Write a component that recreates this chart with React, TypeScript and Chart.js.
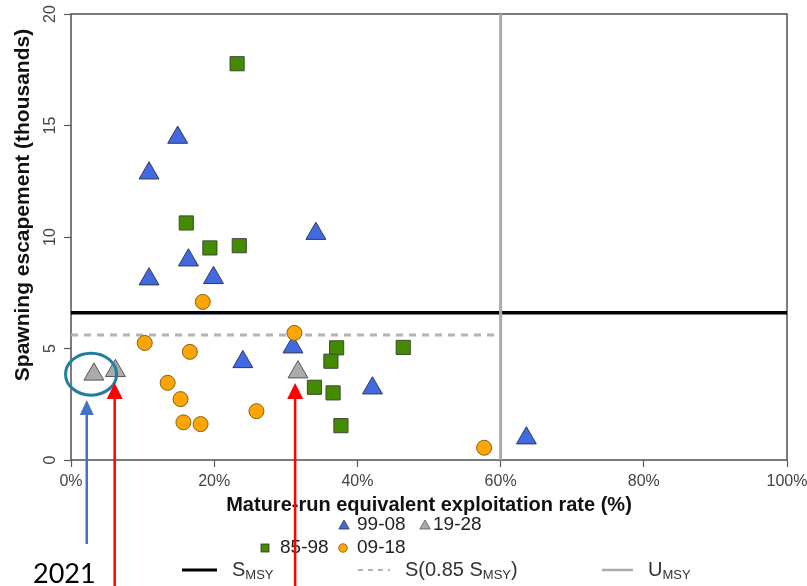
import React, { useEffect, useRef } from "react";
import { Chart, registerables } from "chart.js";

Chart.register(...registerables);

// Exploitation rate (%) and spawning escapement (thousands) by period
const p8598X = [23.2, 16.1, 19.4, 23.5, 37.1, 36.3, 34.0, 36.6, 37.7, 46.4];
const p8598Y = [17.77, 10.63, 9.51, 9.61, 5.03, 4.43, 3.26, 3.01, 1.54, 5.05];

const p9908X = [14.9, 10.9, 16.4, 10.9, 19.9, 34.2, 24.0, 31.0, 42.1, 63.6];
const p9908Y = [14.46, 12.86, 8.96, 8.11, 8.17, 10.15, 4.4, 5.06, 3.22, 0.98];

const p0918X = [18.4, 10.3, 16.6, 31.2, 13.5, 15.3, 15.7, 18.1, 25.9, 57.7];
const p0918Y = [7.09, 5.25, 4.85, 5.7, 3.46, 2.73, 1.69, 1.61, 2.19, 0.55];

const p1928X = [3.2, 6.2, 31.7];
const p1928Y = [3.84, 4.0, 3.94];

// Reference points
const sMsy = 6.6;
const s85Msy = 0.85 * sMsy;
const uMsy = 60;

const xTickValues = [0, 20, 40, 60, 80, 100];
const yTickValues = [0, 5, 10, 15, 20];

// Annotation targets (x in %, y in thousands)
const circledX = 2.8;
const circledY = 3.85;
const blueArrowX = 2.2;
const blueArrowTipY = 2.69;
const redArrowX = [6.1, 31.3];
const redArrowTipY = 3.45;

const FONT = "'Liberation Sans', Arial, sans-serif";

const pairs = (xs: number[], ys: number[]) => xs.map((x, i) => ({ x, y: ys[i] }));

function drawTri(ctx: CanvasRenderingContext2D, x: number, y: number, r: number, fill: string, stroke: string) {
  ctx.beginPath();
  ctx.moveTo(x, y - r);
  ctx.lineTo(x + r * 0.866, y + r * 0.5);
  ctx.lineTo(x - r * 0.866, y + r * 0.5);
  ctx.closePath();
  ctx.fillStyle = fill;
  ctx.fill();
  ctx.strokeStyle = stroke;
  ctx.lineWidth = 0.8;
  ctx.stroke();
}

function drawSubText(ctx: CanvasRenderingContext2D, parts: [string, boolean][], x: number, y: number) {
  let cx = x;
  ctx.textAlign = "left";
  ctx.textBaseline = "middle";
  for (const [t, sub] of parts) {
    ctx.font = sub ? `13px ${FONT}` : `20px ${FONT}`;
    ctx.fillText(t, cx, sub ? y + 5 : y);
    cx += ctx.measureText(t).width;
  }
}

function arrow(ctx: CanvasRenderingContext2D, x: number, tipY: number, bottomY: number, color: string, headW: number, headH: number) {
  ctx.strokeStyle = color;
  ctx.fillStyle = color;
  ctx.lineWidth = 2.5;
  ctx.beginPath();
  ctx.moveTo(x, tipY + headH - 1);
  ctx.lineTo(x, bottomY);
  ctx.stroke();
  ctx.beginPath();
  ctx.moveTo(x, tipY);
  ctx.lineTo(x + headW / 2, tipY + headH);
  ctx.lineTo(x - headW / 2, tipY + headH);
  ctx.closePath();
  ctx.fill();
}

const decorPlugin = {
  id: "decor",
  beforeDatasetsDraw(chart: any) {
    const { ctx, chartArea: a } = chart;
    ctx.save();
    ctx.strokeStyle = "#5a5a5a";
    ctx.lineWidth = 1.6;
    ctx.strokeRect(a.left, a.top, a.right - a.left, a.bottom - a.top);
    ctx.restore();
  },
  afterDraw(chart: any) {
    const { ctx, chartArea: a } = chart;
    const xs = chart.scales.x;
    const ys = chart.scales.y;
    ctx.save();

    // axis titles
    ctx.fillStyle = "#111";
    ctx.font = `bold 20px ${FONT}`;
    ctx.textAlign = "center";
    ctx.textBaseline = "middle";
    ctx.fillText("Mature-run equivalent exploitation rate (%)", (a.left + a.right) / 2, 505);
    ctx.save();
    ctx.translate(23, 205);
    ctx.rotate(-Math.PI / 2);
    ctx.font = `bold 21px ${FONT}`;
    ctx.fillText("Spawning escapement (thousands)", 0, 0);
    ctx.restore();

    // period legend
    ctx.fillStyle = "#222";
    ctx.font = `19px ${FONT}`;
    ctx.textAlign = "left";
    ctx.textBaseline = "middle";
    drawTri(ctx, 344, 526, 6, "#4169E1", "#333");
    ctx.fillStyle = "#222";
    ctx.fillText("99-08", 357, 525);
    drawTri(ctx, 425, 526, 6, "#ABABAB", "#555");
    ctx.fillStyle = "#222";
    ctx.fillText("19-28", 433, 525);

    ctx.fillStyle = "#458B00";
    ctx.fillRect(261, 544, 8, 8);
    ctx.strokeStyle = "#333";
    ctx.lineWidth = 0.8;
    ctx.strokeRect(261, 544, 8, 8);
    ctx.fillStyle = "#222";
    ctx.fillText("85-98", 280, 548);
    ctx.beginPath();
    ctx.arc(343, 548, 4.3, 0, Math.PI * 2);
    ctx.fillStyle = "#FFA500";
    ctx.fill();
    ctx.strokeStyle = "#7a5a10";
    ctx.stroke();
    ctx.fillStyle = "#222";
    ctx.fillText("09-18", 357, 548);

    // reference line legend
    const ly = 570;
    ctx.lineWidth = 3;
    ctx.strokeStyle = "#000";
    ctx.beginPath();
    ctx.moveTo(182, ly);
    ctx.lineTo(217, ly);
    ctx.stroke();
    ctx.fillStyle = "#333";
    drawSubText(ctx, [["S", false], ["MSY", true]], 232, ly);

    ctx.lineWidth = 2;
    ctx.strokeStyle = "#b4b4b4";
    ctx.setLineDash([5, 5]);
    ctx.beginPath();
    ctx.moveTo(358, ly);
    ctx.lineTo(390, ly);
    ctx.stroke();
    ctx.setLineDash([]);
    ctx.fillStyle = "#333";
    drawSubText(ctx, [["S(0.85 S", false], ["MSY", true], [")", false]], 405, ly);

    ctx.lineWidth = 2.5;
    ctx.strokeStyle = "#ababab";
    ctx.beginPath();
    ctx.moveTo(602, ly);
    ctx.lineTo(633, ly);
    ctx.stroke();
    ctx.fillStyle = "#333";
    drawSubText(ctx, [["U", false], ["MSY", true]], 648, ly);

    // callouts
    ctx.strokeStyle = "#1e7fa0";
    ctx.lineWidth = 3;
    ctx.beginPath();
    ctx.ellipse(xs.getPixelForValue(circledX), ys.getPixelForValue(circledY), 25.5, 21, 0, 0, Math.PI * 2);
    ctx.stroke();

    arrow(ctx, xs.getPixelForValue(blueArrowX), ys.getPixelForValue(blueArrowTipY), 544, "#4472C4", 14, 15);
    for (const rx of redArrowX) {
      arrow(ctx, xs.getPixelForValue(rx), ys.getPixelForValue(redArrowTipY), 586, "#FF0000", 16, 16);
    }

    ctx.fillStyle = "#000";
    ctx.font = "27px Lato, 'Open Sans', sans-serif";
    ctx.textAlign = "left";
    ctx.textBaseline = "alphabetic";
    ctx.fillText("2021", 33, 583);

    ctx.restore();
  },
};

export default function App() {
  const canvasRef = useRef<HTMLCanvasElement | null>(null);

  useEffect(() => {
    document.body.style.margin = "0";
    const canvas = canvasRef.current;
    if (!canvas) return;

    const pointDs = (label: string, xs: number[], ys: number[], style: string, radius: number, fill: string, border: string, order: number) => ({
      type: "scatter" as const,
      label,
      data: pairs(xs, ys),
      pointStyle: style,
      pointRadius: radius,
      pointBackgroundColor: fill,
      pointBorderColor: border,
      pointBorderWidth: 1,
      showLine: false,
      order,
    });

    const lineDs = (label: string, data: { x: number; y: number }[], color: string, width: number, dash: number[], order: number) => ({
      type: "line" as const,
      label,
      data,
      borderColor: color,
      borderWidth: width,
      borderDash: dash,
      pointRadius: 0,
      fill: false,
      tension: 0,
      order,
    });

    const chart = new Chart(canvas, {
      type: "scatter",
      data: {
        datasets: [
          lineDs("S(0.85 SMSY)", [{ x: 0, y: s85Msy }, { x: uMsy, y: s85Msy }], "#b4b4b4", 3, [7, 6], 12),
          lineDs("SMSY", [{ x: 0, y: sMsy }, { x: 100, y: sMsy }], "#000000", 3.5, [], 11),
          lineDs("UMSY", [{ x: uMsy, y: 0 }, { x: uMsy, y: 20 }], "#ababab", 3, [], 10),
          pointDs("85-98", p8598X, p8598Y, "rect", 10, "#458B00", "#3a4a3a", 3),
          pointDs("99-08", p9908X, p9908Y, "triangle", 11.5, "#4169E1", "#333a55", 2),
          pointDs("09-18", p0918X, p0918Y, "circle", 7.5, "#FFA500", "#806020", 1),
          pointDs("19-28", p1928X, p1928Y, "triangle", 11.5, "#ABABAB", "#555555", 0),
        ] as any,
      },
      options: {
        animation: false,
        responsive: false,
        devicePixelRatio: 1,
        events: [],
        layout: { padding: { top: 14, right: 20, left: 0, bottom: 0 } },
        plugins: { legend: { display: false }, tooltip: { enabled: false } },
        scales: {
          x: {
            type: "linear",
            min: 0,
            max: 100,
            afterFit: (s: any) => {
              s.height = 126;
              s.paddingLeft = 0;
              s.paddingRight = 0;
            },
            afterBuildTicks: (s: any) => {
              s.ticks = xTickValues.map((v) => ({ value: v }));
            },
            ticks: {
              autoSkip: false,
              maxRotation: 0,
              padding: 5,
              color: "#444",
              font: { family: FONT, size: 16 },
              callback: (v: any) => `${v}%`,
            },
            grid: { display: true, drawOnChartArea: false, drawTicks: true, tickLength: 7, tickColor: "#5a5a5a", tickWidth: 1.2 },
            border: { display: false },
          },
          y: {
            type: "linear",
            min: 0,
            max: 20,
            afterFit: (s: any) => {
              s.width = 71;
              s.paddingTop = 0;
              s.paddingBottom = 0;
            },
            afterBuildTicks: (s: any) => {
              s.ticks = yTickValues.map((v) => ({ value: v }));
            },
            ticks: {
              autoSkip: false,
              minRotation: 90,
              maxRotation: 90,
              crossAlign: "center",
              padding: 5,
              color: "#444",
              font: { family: FONT, size: 16 },
            },
            grid: { display: true, drawOnChartArea: false, drawTicks: true, tickLength: 7, tickColor: "#5a5a5a", tickWidth: 1.2 },
            border: { display: false },
          },
        },
      } as any,
      plugins: [decorPlugin],
    });

    return () => chart.destroy();
  }, []);

  return (
    <div style={{ position: "absolute", left: 0, top: 0, width: 807, height: 586, background: "#fff" }}>
      <canvas ref={canvasRef} width={807} height={586} style={{ display: "block" }} />
    </div>
  );
}
